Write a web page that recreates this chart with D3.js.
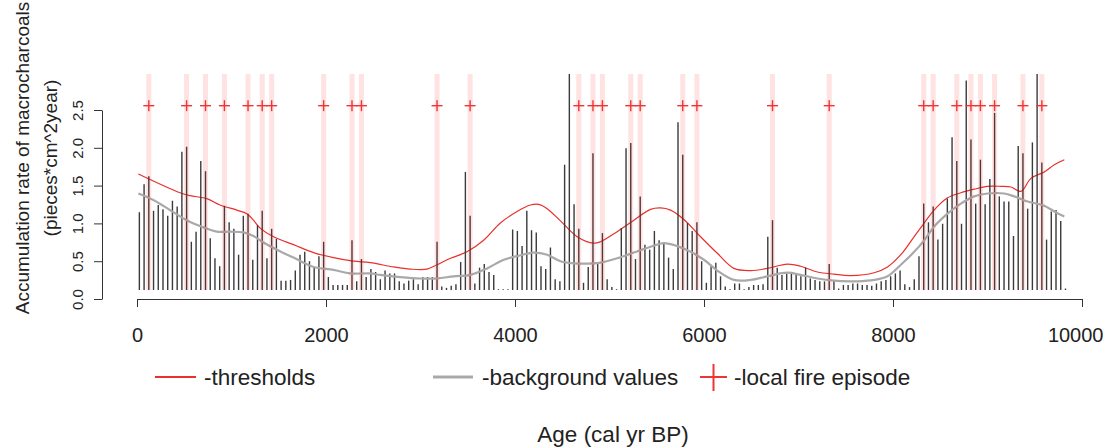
<!DOCTYPE html>
<html>
<head>
<meta charset="utf-8">
<script src="https://cdn.jsdelivr.net/npm/d3@7/dist/d3.min.js"></script>
<style>
  html, body { margin: 0; padding: 0; background: #fff; }
  svg { display: block; font-family: "Liberation Sans", Arial, sans-serif; }
</style>
</head>
<body>
<svg id="chart" width="1104" height="447"></svg>
<script>
// ---- data ----
const ages = [25,75,125,175,225,275,325,375,425,475,525,575,625,675,725,775,825,875,925,975,
1025,1075,1125,1175,1225,1275,1325,1375,1425,1475,1525,1575,1625,1675,1725,1775,1825,1875,1925,1975,
2025,2075,2125,2175,2225,2275,2325,2375,2425,2475,2525,2575,2625,2675,2725,2775,2825,2875,2925,2975,
3025,3075,3125,3175,3225,3275,3325,3375,3425,3475,3525,3575,3625,3675,3725,3775,3825,3875,3925,3975,
4025,4075,4125,4175,4225,4275,4325,4375,4425,4475,4525,4575,4625,4675,4725,4775,4825,4875,4925,4975,
5025,5075,5125,5175,5225,5275,5325,5375,5425,5475,5525,5575,5625,5675,5725,5775,5825,5875,5925,5975,
6025,6075,6125,6175,6225,6275,6325,6375,6425,6475,6525,6575,6625,6675,6725,6775,6825,6875,6925,6975,
7025,7075,7125,7175,7225,7275,7325,7375,7425,7475,7525,7575,7625,7675,7725,7775,7825,7875,7925,7975,
8025,8075,8125,8175,8225,8275,8325,8375,8425,8475,8525,8575,8625,8675,8725,8775,8825,8875,8925,8975,
9025,9075,9125,9175,9225,9275,9325,9375,9425,9475,9525,9575,9625,9675,9725,9775,9825];

const accRate = [1.08,1.47,1.58,1.10,1.18,1.12,1.03,1.24,1.16,1.92,1.99,0.67,0.81,1.79,1.65,0.72,0.44,0.33,1.17,0.94,
0.85,0.49,1.03,1.06,0.42,0.90,1.10,0.44,0.85,0.71,0.13,0.13,0.14,0.27,0.49,0.53,0.40,0.31,0.47,0.67,
0.18,0.07,0.07,0.07,0.07,0.69,0.12,0.43,0.18,0.29,0.25,0.15,0.27,0.23,0.23,0.12,0.09,0.13,0.15,0.08,
0.18,0.18,0.18,0.67,0.05,0.03,0.06,0.08,0.39,1.64,1.03,0.09,0.31,0.36,0.25,0.21,0.01,0.01,0.01,0.84,
0.82,0.61,1.10,0.83,0.80,0.33,0.29,0.59,0.15,0.12,1.74,3.00,1.19,0.85,0.10,0.32,1.90,0.37,0.79,0.15,
0.04,0.01,0.86,1.97,2.04,0.43,1.30,0.63,0.56,0.82,0.69,0.66,0.45,0.29,2.33,1.88,0.93,0.82,0.94,0.40,
0.10,0.35,0.38,0.19,0.05,0.01,0.09,0.09,0.01,0.04,0.07,0.07,0.08,0.74,0.97,0.31,0.21,0.23,0.24,0.21,
0.19,0.31,0.16,0.14,0.12,0.12,0.36,0.14,0.02,0.07,0.07,0.09,0.09,0.07,0.07,0.06,0.09,0.12,0.14,0.19,
0.23,0.27,0.08,0.04,0.15,0.47,1.20,0.94,1.16,0.70,0.92,1.27,2.12,1.79,0.92,2.91,2.09,1.20,1.81,1.19,
1.54,2.46,1.30,1.23,1.23,0.75,2.00,1.90,1.13,2.05,3.00,1.77,0.70,1.09,1.11,0.96,0.02];

const thresholdAge = [14,455,561,738,879,1056,1162,1232,1303,1444,1656,1868,2080,2292,2468,2715,2892,3069,3175,3316,
3492,3668,3845,4022,4163,4251,4340,4481,4658,4834,4905,5081,5258,5434,5540,5646,5787,5964,6141,6317,
6494,6670,6882,7023,7200,7376,7553,7800,7942,8083,8224,8330,8435,8577,8718,8859,9001,9142,9248,9354,
9460,9600,9707,9813];
const thresholdVal = [1.61,1.35,1.31,1.27,1.18,1.11,1.06,0.97,0.86,0.74,0.63,0.52,0.45,0.40,0.38,0.32,0.29,0.29,0.35,0.44,
0.53,0.69,0.93,1.09,1.18,1.19,1.13,0.96,0.74,0.65,0.67,0.81,0.97,1.12,1.14,1.11,0.98,0.74,0.51,0.30,
0.27,0.30,0.36,0.33,0.25,0.22,0.20,0.24,0.32,0.49,0.74,0.93,1.11,1.28,1.35,1.40,1.44,1.44,1.43,1.37,
1.55,1.64,1.74,1.81];

const backgroundAge = [14,173,350,526,703,844,985,1126,1232,1338,1480,1656,1868,2080,2256,2468,2574,2786,2998,3175,
3351,3528,3704,3881,4022,4198,4340,4481,4622,4834,4905,5081,5258,5434,5576,5717,5858,5999,6141,6317,
6494,6670,6882,7023,7200,7376,7553,7624,7800,7942,8083,8224,8330,8435,8577,8718,8859,9001,9177,9283,
9424,9600,9707,9813];
const backgroundVal = [1.34,1.25,1.11,0.97,0.87,0.81,0.81,0.80,0.75,0.66,0.56,0.45,0.32,0.28,0.23,0.23,0.21,0.18,0.16,0.16,
0.19,0.21,0.30,0.42,0.47,0.52,0.49,0.40,0.37,0.37,0.38,0.44,0.52,0.60,0.65,0.61,0.53,0.42,0.27,0.14,
0.14,0.19,0.24,0.21,0.16,0.13,0.12,0.12,0.14,0.19,0.35,0.53,0.69,0.88,1.06,1.20,1.30,1.34,1.34,1.30,
1.23,1.17,1.09,1.02];

const fireEpisodes = [125,525,725,925,1175,1325,1425,1975,2275,2375,3175,3525,4675,4825,4925,5225,5325,5775,5925,6725,
7325,8325,8425,8675,8825,8925,9075,9375,9575];
const fireMarkerVal = 2.56;

const xTicks = [0,2000,4000,6000,8000,10000];
const yTicks = [0.0,0.5,1.0,1.5,2.0,2.5];

// ---- scales ----
const svg = d3.select("#chart");
const x = d3.scaleLinear().domain([0,10000]).range([137,1082]);
const y = d3.scaleLinear().domain([0,3]).range([290,74]);          // data
const yAxisScale = d3.scaleLinear().domain([0,2.5]).range([299,110]); // printed axis

const bars = ages.map((a,i)=>({age:a, v:accRate[i]}));
const thr = thresholdAge.map((a,i)=>({age:a, v:thresholdVal[i]}));
const bkg = backgroundAge.map((a,i)=>({age:a, v:backgroundVal[i]}));

const line = d3.line().x(d=>x(d.age)).y(d=>y(d.v)).curve(d3.curveCatmullRom.alpha(0.5));

// threshold line (under bars)
svg.append("path").datum(thr).attr("d", line)
  .attr("fill","none").attr("stroke","#e8302c").attr("stroke-width",1.2);

// bars
svg.append("g").selectAll("line").data(bars).join("line")
  .attr("x1",d=>x(d.age)).attr("x2",d=>x(d.age))
  .attr("y1",y(0)).attr("y2",d=>Math.min(y(0)-0.8, y(d.v)))
  .attr("stroke","#3a3a3a").attr("stroke-width",1.4);

// background line
svg.append("path").datum(bkg).attr("d", line)
  .attr("fill","none").attr("stroke","#a9a9a9").attr("stroke-width",2.2);

// fire episode bands
svg.append("g").selectAll("rect").data(fireEpisodes).join("rect")
  .attr("x",d=>x(d)-2.5).attr("width",5)
  .attr("y",y(3)).attr("height",y(0)-y(3))
  .attr("fill","#ff2020").attr("fill-opacity",0.13);

// plus markers
const plus = svg.append("g").attr("stroke","#f03434").attr("stroke-width",1.4);
fireEpisodes.forEach(a=>{
  const cx = x(a), cy = y(fireMarkerVal);
  plus.append("line").attr("x1",cx-5.5).attr("x2",cx+5.5).attr("y1",cy).attr("y2",cy);
  plus.append("line").attr("x1",cx).attr("x2",cx).attr("y1",cy-5.5).attr("y2",cy+5.5);
});

// ---- axes ----
const xAxis = svg.append("g").attr("transform","translate(0,299)")
  .call(d3.axisBottom(x).tickValues(xTicks).tickSize(8).tickSizeOuter(0).tickFormat(d3.format("d")));
xAxis.select(".domain").attr("stroke","#333");
xAxis.selectAll(".tick line").attr("stroke","#333");
xAxis.selectAll("text").attr("y",29).attr("font-size",20).attr("fill","#222")
  .attr("font-family","Liberation Sans, Arial, sans-serif");
// keep the last label inside the picture
xAxis.selectAll(".tick").filter(d=>d===10000).select("text")
  .attr("text-anchor","end").attr("x",21);

const yAxis = svg.append("g").attr("transform","translate(102,0)")
  .call(d3.axisLeft(yAxisScale).tickValues(yTicks).tickSize(8).tickSizeOuter(0).tickFormat(d3.format(".1f")));
yAxis.select(".domain").attr("stroke","#333");
yAxis.selectAll(".tick line").attr("stroke","#333");
yAxis.selectAll("text")
  .attr("x",0).attr("dy",null).attr("text-anchor","middle")
  .attr("transform","translate(-19,0) rotate(-90)")
  .attr("font-size",15).attr("fill","#222")
  .attr("font-family","Liberation Sans, Arial, sans-serif");

// axis titles
svg.append("text").attr("transform","translate(29,158) rotate(-90)")
  .attr("text-anchor","middle").attr("font-size",19).attr("fill","#222")
  .text("Accumulation rate of macrocharcoals");
svg.append("text").attr("transform","translate(57,158) rotate(-90)")
  .attr("text-anchor","middle").attr("font-size",19).attr("fill","#222")
  .text("(pieces*cm^2year)");
svg.append("text").attr("x",613).attr("y",442)
  .attr("text-anchor","middle").attr("font-size",22.5).attr("fill","#222")
  .text("Age (cal yr BP)");

// ---- legend ----
const lg = svg.append("g").attr("font-size",22.5).attr("fill","#222");
lg.append("line").attr("x1",155).attr("x2",196).attr("y1",377).attr("y2",377)
  .attr("stroke","#e8302c").attr("stroke-width",2.2);
lg.append("text").attr("x",204).attr("y",385).text("-thresholds");
lg.append("line").attr("x1",433).attr("x2",473).attr("y1",377).attr("y2",377)
  .attr("stroke","#a9a9a9").attr("stroke-width",3);
lg.append("text").attr("x",482).attr("y",385).text("-background values");
lg.append("line").attr("x1",700).attr("x2",727).attr("y1",377).attr("y2",377)
  .attr("stroke","#f03434").attr("stroke-width",2);
lg.append("line").attr("x1",713.5).attr("x2",713.5).attr("y1",364).attr("y2",391)
  .attr("stroke","#f03434").attr("stroke-width",2);
lg.append("text").attr("x",734).attr("y",385).text("-local fire episode");
</script>
</body>
</html>
